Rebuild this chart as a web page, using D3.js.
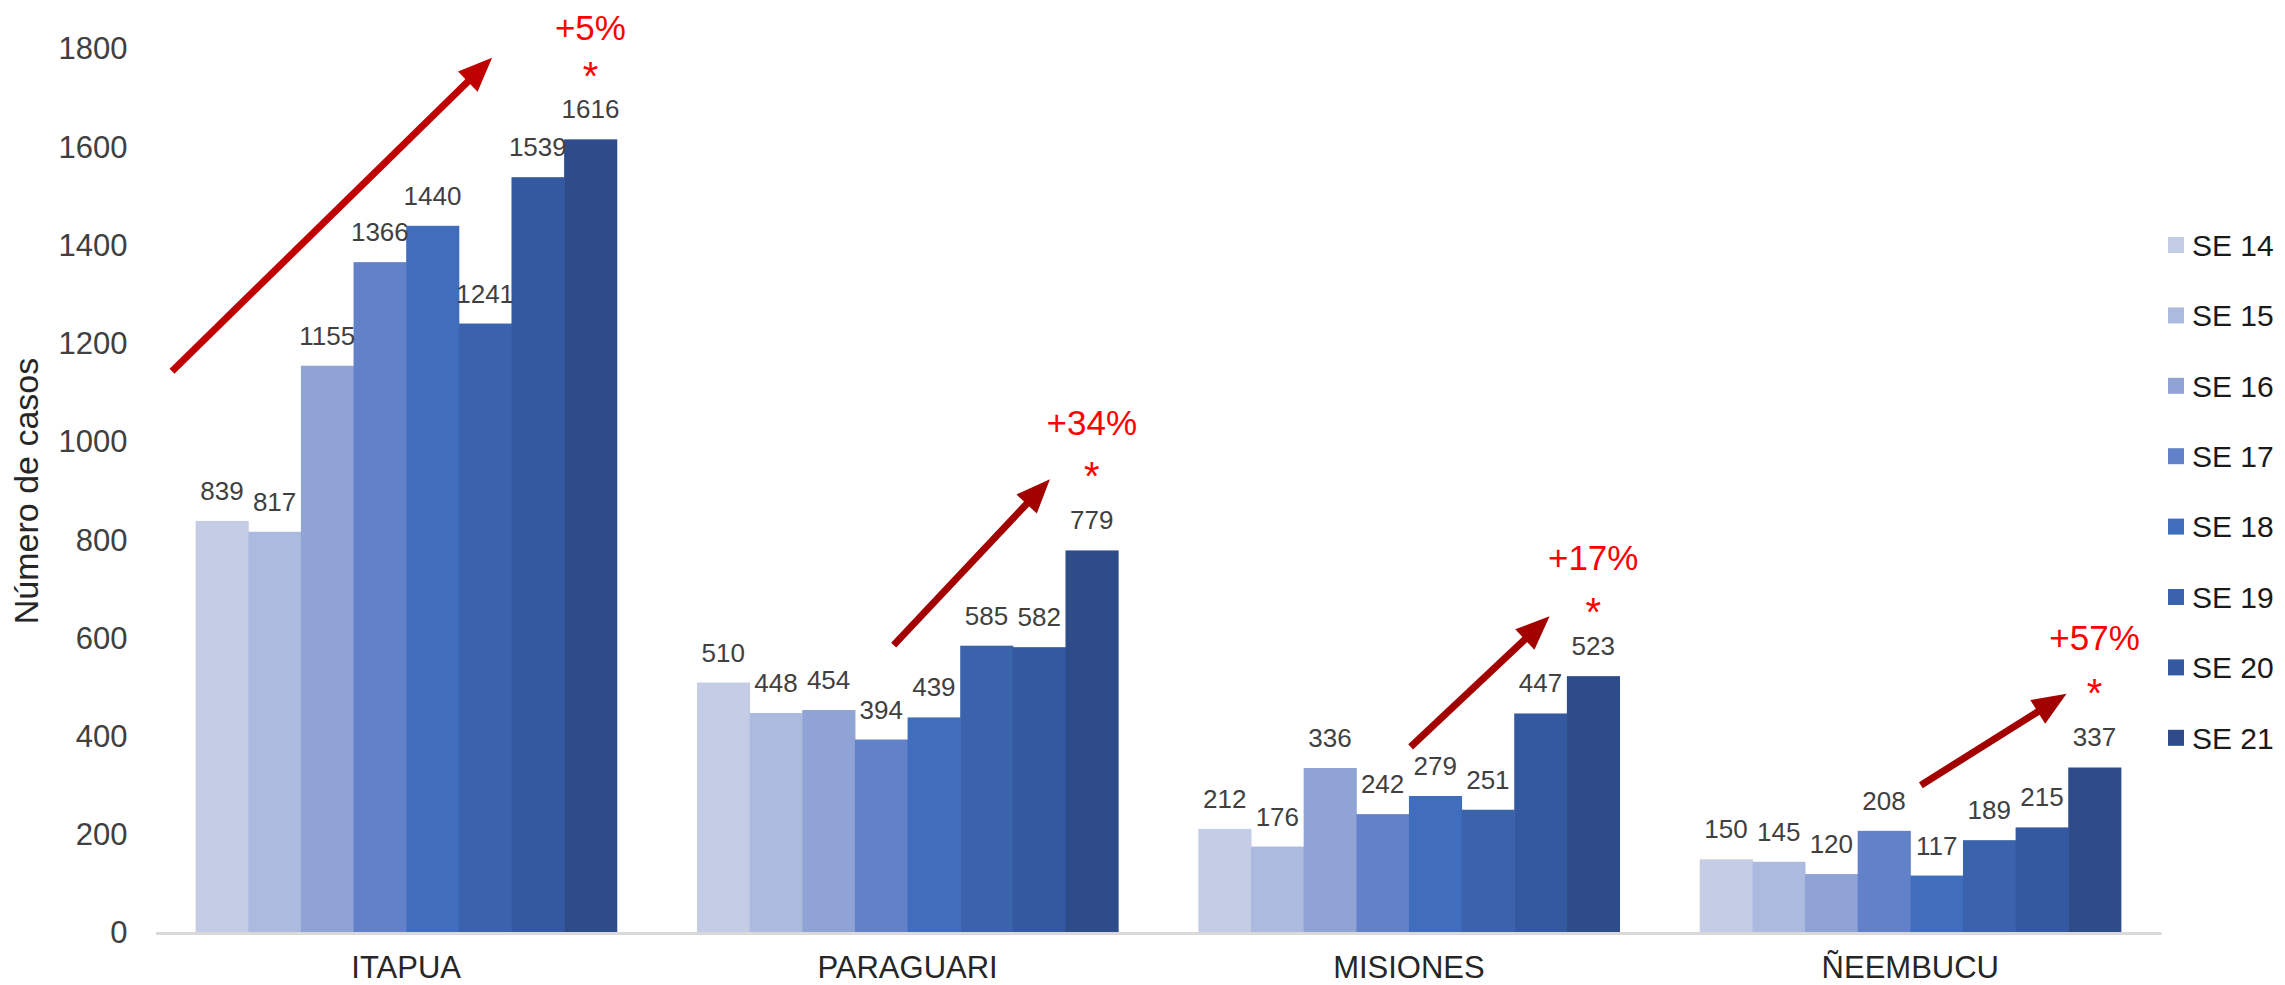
<!DOCTYPE html>
<html>
<head>
    <title>Número de casos por departamento</title>
    <script src="https://cdn.jsdelivr.net/npm/d3@7/dist/d3.min.js" type="text/javascript"></script>
    <style type="text/css">
        body { margin: 0; background: #fff; }
        text { font-family: "Liberation Sans", Arial, sans-serif; }
    </style>
</head>
<body>
<div id="chart"></div>
<script type="text/javascript">
    // data
    var departamentos = ['ITAPUA', 'PARAGUARI', 'MISIONES', 'ÑEEMBUCU'];
    var semanas = ['SE 14', 'SE 15', 'SE 16', 'SE 17', 'SE 18', 'SE 19', 'SE 20', 'SE 21'];
    var casos = [
        [839, 817, 1155, 1366, 1440, 1241, 1539, 1616],
        [510, 448, 454, 394, 439, 585, 582, 779],
        [212, 176, 336, 242, 279, 251, 447, 523],
        [150, 145, 120, 208, 117, 189, 215, 337]
    ];
    var yTicks = [0, 200, 400, 600, 800, 1000, 1200, 1400, 1600, 1800];
    var colores = ['#c5cce6', '#adbadf', '#8fa3d4', '#6281c8', '#406ebd', '#3b63ac', '#3459a0', '#2e4c89'];

    // trend annotations: arrow from/to (x as fraction of group width, y as value)
    var variacion = ['+5%', '+34%', '+17%', '+57%'];
    var flechaDesde = [[-0.056, 1144], [0.467, 586], [0.504, 379], [0.525, 301]];
    var flechaHasta = [[0.704, 1782], [0.838, 924], [0.834, 645], [0.871, 487]];
    var asteriscoY = [1758, 942, 665, 500];
    var variacionY = [1845, 1040, 764, 601];
    var colorFlecha = ['#c00000', '#a30000', '#a30000', '#a30000'];

    var W = 2285, H = 985;
    var svg = d3.select('#chart').append('svg')
        .attr('width', W)
        .attr('height', H);

    var x0 = d3.scaleBand().domain(departamentos).range([155.5, 2161]).paddingInner(0.16).paddingOuter(0.08);
    var x1 = d3.scaleBand().domain(semanas).range([0, x0.bandwidth()]);
    var y = d3.scaleLinear().domain([0, 1800]).range([933, 49]);

    // y axis
    var yAxis = svg.append('g')
        .attr('transform', 'translate(' + x0.range()[0] + ',0)')
        .call(d3.axisLeft(y).tickValues(yTicks).tickFormat(d3.format('d')).tickSize(0).tickPadding(28));
    yAxis.select('.domain').remove();
    yAxis.selectAll('text')
        .attr('font-size', 31)
        .attr('fill', '#404040')
        .style('font-family', '"Liberation Sans", Arial, sans-serif');

    svg.append('text')
        .attr('transform', 'translate(38,' + ((y(0) + y(1800)) / 2) + ') rotate(-90)')
        .attr('text-anchor', 'middle')
        .attr('font-size', 34)
        .attr('fill', '#262626')
        .text('Número de casos');

    // bars
    var grupos = svg.selectAll('.grupo')
        .data(departamentos)
        .enter().append('g')
        .attr('class', 'grupo')
        .attr('transform', function(d) { return 'translate(' + x0(d) + ',0)'; });

    grupos.selectAll('rect')
        .data(function(d, i) { return casos[i].map(function(v, j) { return {s: semanas[j], v: v, j: j}; }); })
        .enter().append('rect')
        .attr('x', function(d) { return x1(d.s); })
        .attr('width', x1.bandwidth() + 0.5)
        .attr('y', function(d) { return y(d.v); })
        .attr('height', function(d) { return y(0) - y(d.v); })
        .attr('fill', function(d) { return colores[d.j]; });

    grupos.selectAll('.valor')
        .data(function(d, i) { return casos[i].map(function(v, j) { return {s: semanas[j], v: v}; }); })
        .enter().append('text')
        .attr('class', 'valor')
        .attr('x', function(d) { return x1(d.s) + x1.bandwidth() / 2; })
        .attr('y', function(d) { return y(d.v) - 21; })
        .attr('text-anchor', 'middle')
        .attr('font-size', 26)
        .attr('fill', '#404040')
        .text(function(d) { return d.v; });

    // x axis
    var xAxis = svg.append('g')
        .attr('transform', 'translate(0,' + y(0) + ')')
        .call(d3.axisBottom(x0).tickSize(0).tickPadding(23));
    xAxis.select('.domain')
        .attr('stroke', '#d9d9d9')
        .attr('stroke-width', 3);
    xAxis.selectAll('text')
        .attr('font-size', 31)
        .attr('fill', '#262626')
        .style('font-family', '"Liberation Sans", Arial, sans-serif');

    // arrows and percentages
    var ultima = semanas[semanas.length - 1];
    departamentos.forEach(function(dep, i) {
        var ax = x0(dep) + flechaDesde[i][0] * x0.bandwidth(), ay = y(flechaDesde[i][1]);
        var bx = x0(dep) + flechaHasta[i][0] * x0.bandwidth(), by = y(flechaHasta[i][1]);
        var ang = Math.atan2(by - ay, bx - ax);
        var hl = 34, hw = 14;
        var cx = bx - hl * Math.cos(ang), cy = by - hl * Math.sin(ang);
        svg.append('line')
            .attr('x1', ax).attr('y1', ay)
            .attr('x2', cx + 2 * Math.cos(ang)).attr('y2', cy + 2 * Math.sin(ang))
            .attr('stroke', colorFlecha[i])
            .attr('stroke-width', 7);
        svg.append('polygon')
            .attr('points', [
                [bx, by],
                [cx - hw * Math.sin(ang), cy + hw * Math.cos(ang)],
                [cx + hw * Math.sin(ang), cy - hw * Math.cos(ang)]
            ].map(function(p) { return p.join(','); }).join(' '))
            .attr('fill', colorFlecha[i]);

        var tx = x0(dep) + x1(ultima) + x1.bandwidth() / 2;
        svg.append('text')
            .attr('x', tx)
            .attr('y', y(variacionY[i]))
            .attr('dy', '0.36em')
            .attr('text-anchor', 'middle')
            .attr('font-size', 35)
            .attr('fill', '#ff0000')
            .text(variacion[i]);
        svg.append('text')
            .attr('x', tx)
            .attr('y', y(asteriscoY[i]) + 20)
            .attr('text-anchor', 'middle')
            .attr('font-size', 40)
            .attr('fill', '#ff0000')
            .text('*');
    });

    // legend
    var leyenda = svg.selectAll('.leyenda')
        .data(semanas)
        .enter().append('g')
        .attr('class', 'leyenda')
        .attr('transform', function(d, i) { return 'translate(2168,' + (245 + i * 70.4) + ')'; });
    leyenda.append('rect')
        .attr('x', 0).attr('y', -8)
        .attr('width', 16).attr('height', 16)
        .attr('fill', function(d, i) { return colores[i]; });
    leyenda.append('text')
        .attr('x', 24)
        .attr('dy', '0.36em')
        .attr('font-size', 30)
        .attr('fill', '#1a1a1a')
        .text(function(d) { return d; });
</script>
</body>
</html>
